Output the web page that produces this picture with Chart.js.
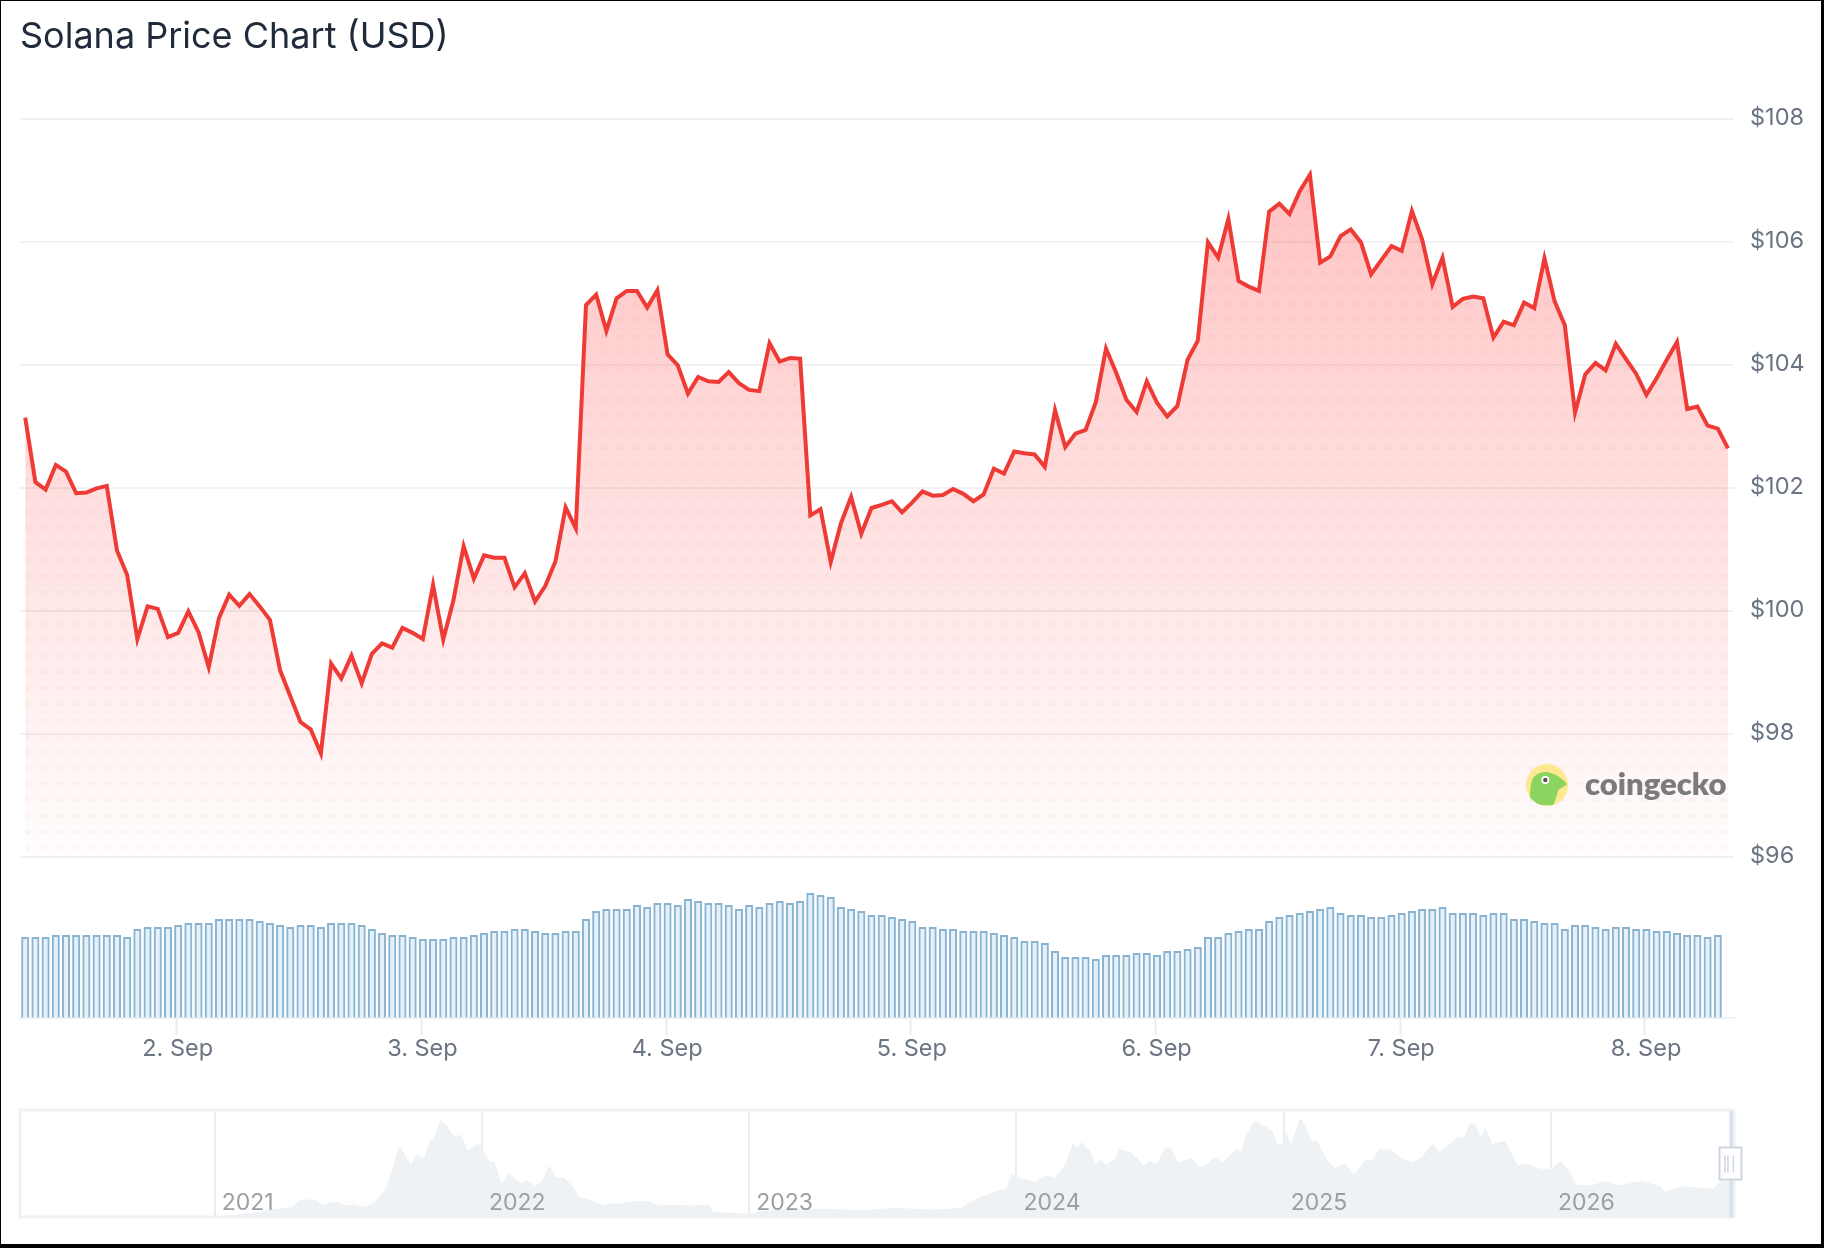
<!DOCTYPE html>
<html>
<head>
<meta charset="utf-8">
<title>Solana Price Chart (USD)</title>
<script src="https://cdn.jsdelivr.net/npm/chart.js@4"></script>
<style>
  html, body { margin: 0; padding: 0; background: #fff; }
  body { width: 1824px; height: 1248px; position: relative; overflow: hidden; }
  #mainChart { position: absolute; left: 0; top: 0; }
  #navChart { position: absolute; left: 0; top: 1100px; }
  #frame {
    position: absolute; left: 0; top: 0; right: 0; bottom: 0; box-sizing: border-box;
    border-style: solid; border-color: #000; border-width: 1px 3px 4px 1px; pointer-events: none;
  }
  #logo { position: absolute; left: 1526px; top: 764px; width: 42px; height: 42px; }
  #logoText {
    position: absolute; left: 1585px; top: 764px; line-height: 38px;
    font: 800 31px Lato, sans-serif; color: #7b7b7b;
  }
</style>
</head>
<body>
<canvas id="mainChart"></canvas>
<canvas id="navChart"></canvas>
<svg id="logo" viewBox="0 0 42 42">
  <clipPath id="logoClip"><circle cx="21" cy="21" r="21"></circle></clipPath>
  <circle cx="21" cy="21" r="21" fill="#fbe88f"></circle>
  <path clip-path="url(#logoClip)" fill="#8ad45f" d="M4 36 C4 24 5 16 8 13 C12 8 20 7 25 9 C31 11 37 15 41 20 C37 24 33 24 32 27 C30 33 29 38 27 41 C20 42 9 41 4 36Z"></path>
  <circle cx="19.3" cy="16" r="4" fill="#fff"></circle>
  <circle cx="19.3" cy="16" r="2.2" fill="#555"></circle>
</svg>
<div id="logoText">coingecko</div>
<div id="frame"></div>

<script>
"use strict";

// Hourly price in USD
const priceValues = [
  103.14, 102.09, 101.97, 102.37, 102.26, 101.91, 101.92, 101.99, 102.03, 100.98,
  100.58, 99.54, 100.07, 100.03, 99.57, 99.64, 99.99, 99.65, 99.08, 99.88,
  100.26, 100.08, 100.27, 100.07, 99.85, 99.03, 98.61, 98.19, 98.07, 97.68,
  99.14, 98.90, 99.27, 98.82, 99.30, 99.47, 99.40, 99.72, 99.64, 99.54,
  100.42, 99.53, 100.17, 101.05, 100.52, 100.90, 100.86, 100.86, 100.38, 100.61,
  100.15, 100.40, 100.80, 101.68, 101.34, 104.97, 105.14, 104.55, 105.08, 105.20,
  105.20, 104.93, 105.21, 104.17, 103.99, 103.53, 103.80, 103.73, 103.72, 103.88,
  103.70, 103.59, 103.57, 104.35, 104.05, 104.11, 104.10, 101.55, 101.65, 100.79,
  101.42, 101.85, 101.25, 101.67, 101.72, 101.78, 101.60, 101.76, 101.94, 101.87,
  101.88, 101.98, 101.90, 101.78, 101.89, 102.31, 102.23, 102.59, 102.56, 102.54,
  102.34, 103.26, 102.66, 102.88, 102.94, 103.39, 104.26, 103.87, 103.43, 103.23,
  103.73, 103.38, 103.16, 103.33, 104.08, 104.39, 105.99, 105.74, 106.37, 105.36,
  105.27, 105.20, 106.49, 106.62, 106.45, 106.82, 107.09, 105.66, 105.76, 106.09,
  106.20, 105.99, 105.47, 105.70, 105.93, 105.85, 106.50, 106.04, 105.31, 105.74,
  104.94, 105.07, 105.11, 105.08, 104.44, 104.70, 104.64, 105.01, 104.92, 105.73,
  105.03, 104.64, 103.22, 103.84, 104.03, 103.91, 104.34, 104.09, 103.85, 103.51,
  103.78, 104.08, 104.37, 103.28, 103.32, 103.01, 102.96, 102.64
];

// Hourly volume, relative height of each bar
const volumeValues = [
  2.41, 2.41, 2.41, 2.47, 2.47, 2.47, 2.47, 2.47, 2.47, 2.47,
  2.41, 2.65, 2.71, 2.71, 2.71, 2.77, 2.83, 2.83, 2.83, 2.95,
  2.95, 2.95, 2.95, 2.89, 2.83, 2.77, 2.71, 2.77, 2.77, 2.71,
  2.83, 2.83, 2.83, 2.77, 2.65, 2.53, 2.47, 2.47, 2.41, 2.35,
  2.35, 2.35, 2.41, 2.41, 2.47, 2.53, 2.59, 2.59, 2.65, 2.65,
  2.59, 2.53, 2.53, 2.59, 2.59, 2.95, 3.19, 3.25, 3.25, 3.25,
  3.37, 3.31, 3.43, 3.43, 3.37, 3.55, 3.49, 3.43, 3.43, 3.37,
  3.25, 3.37, 3.31, 3.43, 3.49, 3.43, 3.49, 3.73, 3.67, 3.61,
  3.31, 3.25, 3.19, 3.07, 3.07, 3.01, 2.95, 2.89, 2.71, 2.71,
  2.65, 2.65, 2.59, 2.59, 2.59, 2.53, 2.47, 2.41, 2.29, 2.29,
  2.23, 1.99, 1.81, 1.81, 1.81, 1.75, 1.87, 1.87, 1.87, 1.93,
  1.93, 1.87, 1.99, 1.99, 2.05, 2.11, 2.41, 2.41, 2.53, 2.59,
  2.65, 2.65, 2.89, 3.01, 3.07, 3.13, 3.19, 3.25, 3.31, 3.13,
  3.07, 3.07, 3.01, 3.01, 3.07, 3.13, 3.19, 3.25, 3.25, 3.31,
  3.13, 3.13, 3.13, 3.07, 3.13, 3.13, 2.95, 2.95, 2.89, 2.83,
  2.83, 2.65, 2.77, 2.77, 2.71, 2.65, 2.71, 2.71, 2.65, 2.65,
  2.59, 2.59, 2.53, 2.47, 2.47, 2.41, 2.47
];

const firstHour = 9.14; // hours after 1 Sep 00:00
const dayTicks = [24, 48, 72, 96, 120, 144, 168];
const dayLabels = ["2. Sep", "3. Sep", "4. Sep", "5. Sep", "6. Sep", "7. Sep", "8. Sep"];
const priceTicks = [96, 98, 100, 102, 104, 106, 108];

// Navigator: all-time history
const navYears = [
  2020.27, 2020.6, 2021.0, 2021.06, 2021.136, 2021.212, 2021.26, 2021.289, 2021.317, 2021.346,
  2021.375, 2021.403, 2021.432, 2021.461, 2021.489, 2021.518, 2021.556, 2021.595, 2021.618, 2021.642,
  2021.667, 2021.686, 2021.698, 2021.713, 2021.734, 2021.757, 2021.782, 2021.805, 2021.82, 2021.843,
  2021.866, 2021.885, 2021.904, 2021.924, 2021.946, 2021.977, 2021.992, 2022.015, 2022.031, 2022.046,
  2022.073, 2022.099, 2022.13, 2022.149, 2022.168, 2022.197, 2022.222, 2022.25, 2022.277, 2022.306,
  2022.34, 2022.363, 2022.398, 2022.455, 2022.484, 2022.512, 2022.551, 2022.618, 2022.665, 2022.704,
  2022.78, 2022.847, 2022.866, 2023.0, 2023.029, 2023.105, 2023.277, 2023.43, 2023.535, 2023.621,
  2023.698, 2023.793, 2023.86, 2023.889, 2023.943, 2023.96, 2023.983, 2024.006, 2024.04, 2024.069,
  2024.107, 2024.145, 2024.183, 2024.211, 2024.226, 2024.245, 2024.278, 2024.297, 2024.312, 2024.335,
  2024.367, 2024.386, 2024.43, 2024.478, 2024.497, 2024.525, 2024.554, 2024.577, 2024.605, 2024.63,
  2024.653, 2024.687, 2024.716, 2024.74, 2024.773, 2024.824, 2024.839, 2024.858, 2024.891, 2024.925,
  2024.957, 2024.976, 2024.995, 2025.01, 2025.029, 2025.058, 2025.068, 2025.106, 2025.125, 2025.163,
  2025.191, 2025.229, 2025.262, 2025.305, 2025.334, 2025.357, 2025.401, 2025.439, 2025.477, 2025.515,
  2025.558, 2025.581, 2025.616, 2025.648, 2025.676, 2025.695, 2025.715, 2025.737, 2025.756, 2025.781,
  2025.829, 2025.876, 2025.905, 2025.962, 2026.0, 2026.038, 2026.067, 2026.095, 2026.152, 2026.2,
  2026.247, 2026.343, 2026.409, 2026.428, 2026.495, 2026.609, 2026.637, 2026.67
];
const navPrices = [
  1, 3, 2, 4.5, 10.8, 20, 25, 27, 45, 47,
  47, 31, 40, 40, 31, 34, 27, 38, 58, 79,
  135, 187, 189, 164, 144, 169, 157, 207, 211, 261,
  250, 225, 218, 222, 178, 196, 196, 166, 148, 151,
  90, 119, 99, 92, 99, 85, 94, 139, 108, 106,
  83, 54, 48, 31, 38, 36, 42, 43, 31, 33,
  31, 33, 13.5, 9, 13.5, 21, 22, 18, 25, 22,
  20, 25, 54, 59, 76, 76, 117, 106, 101, 94,
  112, 106, 144, 200, 189, 202, 175, 142, 157, 142,
  155, 184, 174, 139, 151, 144, 187, 187, 148, 153,
  160, 135, 144, 162, 148, 184, 175, 220, 261, 247,
  234, 198, 198, 227, 198, 263, 263, 205, 205, 153,
  133, 144, 115, 153, 155, 182, 182, 160, 148, 160,
  200, 175, 196, 214, 216, 252, 254, 216, 240, 198,
  205, 139, 144, 130, 130, 150, 126, 88, 85, 97,
  85, 97, 83, 69, 83, 76, 99, 103
];
const yearTicks = [2021, 2022, 2023, 2024, 2025, 2026];
const selectedFrom = 2026.668;

const FONT = "Inter, sans-serif";
const LABEL_COLOR = "#6b7482";
const GRID_COLOR = "#f0f2f4";

Chart.defaults.font.family = FONT;
Chart.defaults.animation = false;
Chart.defaults.responsive = false;
Chart.defaults.devicePixelRatio = 1;

// Red gradient with the faint dot grid on top, used as the area fill
let areaPattern = null;
function buildAreaFill(chart) {
  if (areaPattern) return areaPattern;
  const yScale = chart.scales.y;
  const off = document.createElement("canvas");
  off.width = chart.width;
  off.height = chart.height;
  const c = off.getContext("2d");
  const grad = c.createLinearGradient(0, yScale.getPixelForValue(107), 0, yScale.getPixelForValue(96));
  grad.addColorStop(0, "rgba(255, 70, 70, 0.32)");
  grad.addColorStop(1, "rgba(255, 70, 70, 0.01)");
  c.fillStyle = grad;
  c.fillRect(0, 0, off.width, off.height);
  c.fillStyle = "rgba(240, 60, 60, 0.06)";
  for (let y = 0; y < off.height; y += 16) {
    for (let x = 11; x < off.width; x += 16) {
      c.beginPath();
      c.arc(x, y, 2.2, 0, Math.PI * 2);
      c.fill();
    }
  }
  areaPattern = chart.ctx.createPattern(off, "no-repeat");
  return areaPattern;
}

const mainCanvas = document.getElementById("mainChart");
mainCanvas.width = 1824;
mainCanvas.height = 1090;

const mainChart = new Chart(mainCanvas, {
  data: {
    datasets: [
      {
        type: "line",
        label: "Price",
        data: priceValues.map((v, i) => ({ x: firstHour + i, y: v })),
        yAxisID: "y",
        borderColor: "#ef3b36",
        borderWidth: 4,
        pointRadius: 0,
        tension: 0,
        fill: { value: 96 },
        backgroundColor: (ctx) => (ctx.chart.chartArea ? buildAreaFill(ctx.chart) : "transparent"),
      },
      {
        type: "bar",
        label: "Volume",
        data: volumeValues.map((v, i) => ({ x: firstHour + i, y: v })),
        yAxisID: "yVolume",
        backgroundColor: "#e2f1fc",
        borderColor: "#8ab3cf",
        borderWidth: 2,
        barThickness: 7.4,
      },
    ],
  },
  options: {
    layout: { padding: { left: 20 } },
    plugins: {
      legend: { display: false },
      tooltip: { enabled: false },
      title: {
        display: true,
        text: "Solana Price Chart (USD)",
        align: "start",
        color: "#1f2a3a",
        font: { family: FONT, size: 36, weight: "400" },
        padding: { top: 15.6, bottom: 59.9 },
      },
    },
    scales: {
      x: {
        type: "linear",
        offset: false,
        min: 8.63,
        max: 176.73,
        afterBuildTicks: (scale) => { scale.ticks = dayTicks.map((v) => ({ value: v })); },
        afterFit: (scale) => { scale.height = 1090 - 1017.7; },
        ticks: {
          autoSkip: false,
          maxRotation: 0,
          padding: 0,
          labelOffset: 1,
          color: LABEL_COLOR,
          font: { size: 23.5 },
          callback: (v) => dayLabels[dayTicks.indexOf(v)],
        },
        grid: { offset: false, drawOnChartArea: false, tickLength: 17, tickColor: "#e9ecef", tickWidth: 2 },
        border: { color: "#eef0f3", width: 2 },
      },
      y: {
        position: "right",
        min: 93.382,
        max: 108,
        afterBuildTicks: (scale) => { scale.ticks = priceTicks.map((v) => ({ value: v })); },
        afterFit: (scale) => { scale.width = 90; },
        ticks: {
          padding: 16,
          labelOffset: -1,
          color: LABEL_COLOR,
          font: { size: 23.5 },
          callback: (v) => "$" + v,
        },
        grid: { color: GRID_COLOR, lineWidth: 2, drawTicks: false },
        border: { display: false },
      },
      yVolume: {
        display: false,
        min: 0,
        max: 26.97,
      },
    },
  },
});

// Frame, selected week and drag handle of the navigator
const navigatorParts = {
  id: "navigatorParts",
  afterDraw(chart) {
    const { ctx, chartArea: a, scales } = chart;
    ctx.save();
    ctx.strokeStyle = "#eef1f4";
    ctx.lineWidth = 3;
    ctx.strokeRect(a.left, a.top, a.right - a.left, a.bottom - a.top);

    const start = scales.x.getPixelForValue(selectedFrom);
    ctx.fillStyle = "#d9dfea";
    ctx.fillRect(start, a.top + 1, 3.4, a.bottom - a.top - 1);

    const midY = (a.top + a.bottom) / 2;
    ctx.fillStyle = "#fff";
    ctx.strokeStyle = "#cfd6e1";
    ctx.lineWidth = 2;
    ctx.fillRect(start - 10, midY - 16, 22, 32);
    ctx.strokeRect(start - 10, midY - 16, 22, 32);
    ctx.lineWidth = 1.5;
    [-4.5, -1.5, 4].forEach((dx) => {
      ctx.beginPath();
      ctx.moveTo(start + dx, midY - 8);
      ctx.lineTo(start + dx, midY + 9);
      ctx.stroke();
    });
    ctx.restore();
  },
};

const navCanvas = document.getElementById("navChart");
navCanvas.width = 1824;
navCanvas.height = 130;

const navChart = new Chart(navCanvas, {
  type: "line",
  data: {
    datasets: [
      {
        data: navPrices.map((v, i) => ({ x: navYears[i], y: v })),
        borderWidth: 0,
        borderColor: "rgba(0,0,0,0)",
        backgroundColor: "#eef2f5",
        pointRadius: 0,
        tension: 0,
        fill: "origin",
      },
    ],
  },
  options: {
    layout: { padding: { left: 20, right: 90, top: 10 } },
    plugins: { legend: { display: false }, tooltip: { enabled: false } },
    scales: {
      x: {
        type: "linear",
        min: 2020.271,
        max: 2026.685,
        afterBuildTicks: (scale) => { scale.ticks = yearTicks.map((v) => ({ value: v })); },
        afterFit: (scale) => { scale.height = 13; },
        ticks: {
          z: 1,
          // mirror keeps the labels from being clipped to the axis box, they sit inside the plot
          mirror: true,
          autoSkip: false,
          maxRotation: 0,
          align: "start",
          labelOffset: 7,
          padding: 0,
          color: "#9b9ea3",
          font: { size: 23 },
          callback: (v) => String(v),
        },
        grid: { color: "#e9edf0", lineWidth: 2, drawTicks: false },
        border: { display: false },
      },
      y: { display: false, min: 0, max: 288.9 },
    },
  },
  plugins: [navigatorParts],
});
</script>
</body>
</html>
